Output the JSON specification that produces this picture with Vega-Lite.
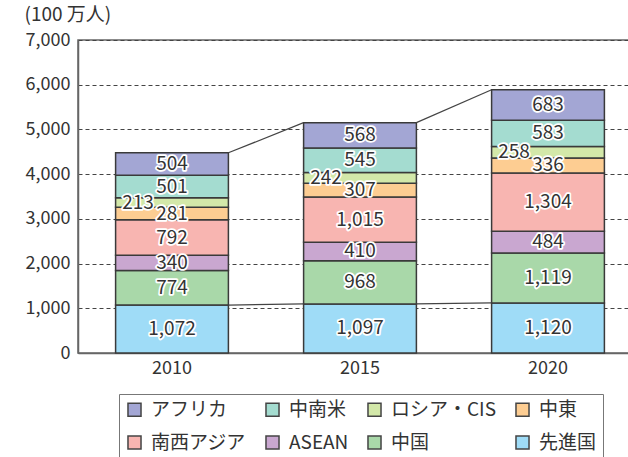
{
  "$schema": "https://vega.github.io/schema/vega-lite/v6.json",
  "width": 564,
  "height": 313,
  "autosize": {"type": "none"},
  "padding": {"left": 78, "top": 40, "right": 0, "bottom": 104},
  "background": "white",
  "config": {
    "font": "Noto Sans CJK JP",
    "numberFormat": ",d",
    "view": {"stroke": "#666", "strokeWidth": 1.5},
    "axis": {"domainColor": "#666", "domainWidth": 1.5, "labelColor": "#333", "labelFontSize": 18, "tickColor": "#444"},
    "axisX": {"labelAngle": 0, "ticks": true, "tickSize": -7, "tickWidth": 2, "tickOffset": -94, "labelOffset": 0, "labelPadding": 13, "grid": false},
    "axisY": {
      "ticks": false, "labelPadding": 8, "tickCount": 7,
      "grid": true, "gridDash": [4, 3], "gridColor": "#444", "gridWidth": 1,
      "titleAngle": 0, "titleAlign": "left", "titleBaseline": "alphabetic",
      "titleX": -54, "titleY": -20, "titleFontSize": 19, "titleFontWeight": "normal", "titleColor": "#333"
    }
  },
  "data": {
    "values": [
      {"year": "2010", "category": "先進国", "value": 1072},
      {"year": "2010", "category": "中国", "value": 774},
      {"year": "2010", "category": "ASEAN", "value": 340},
      {"year": "2010", "category": "南西アジア", "value": 792},
      {"year": "2010", "category": "中東", "value": 281},
      {"year": "2010", "category": "ロシア・CIS", "value": 213},
      {"year": "2010", "category": "中南米", "value": 501},
      {"year": "2010", "category": "アフリカ", "value": 504},
      {"year": "2015", "category": "先進国", "value": 1097},
      {"year": "2015", "category": "中国", "value": 968},
      {"year": "2015", "category": "ASEAN", "value": 410},
      {"year": "2015", "category": "南西アジア", "value": 1015},
      {"year": "2015", "category": "中東", "value": 307},
      {"year": "2015", "category": "ロシア・CIS", "value": 242},
      {"year": "2015", "category": "中南米", "value": 545},
      {"year": "2015", "category": "アフリカ", "value": 568},
      {"year": "2020", "category": "先進国", "value": 1120},
      {"year": "2020", "category": "中国", "value": 1119},
      {"year": "2020", "category": "ASEAN", "value": 484},
      {"year": "2020", "category": "南西アジア", "value": 1304},
      {"year": "2020", "category": "中東", "value": 336},
      {"year": "2020", "category": "ロシア・CIS", "value": 258},
      {"year": "2020", "category": "中南米", "value": 583},
      {"year": "2020", "category": "アフリカ", "value": 683}
    ]
  },
  "transform": [
    {"calculate": "indexof(['先進国','中国','ASEAN','南西アジア','中東','ロシア・CIS','中南米','アフリカ'], datum.category)", "as": "ord"},
    {"stack": "value", "groupby": ["year"], "sort": [{"field": "ord", "order": "ascending"}], "as": ["y0", "y1"]},
    {"calculate": "(datum.y0 + datum.y1) / 2", "as": "mid"}
  ],
  "layer": [
    {
      "mark": {"type": "bar", "stroke": "#3a3a3a", "strokeWidth": 1.5},
      "encoding": {
        "x": {
          "field": "year", "type": "nominal", "title": null,
          "scale": {"paddingInner": 0.4, "paddingOuter": 0.2}
        },
        "y": {
          "field": "y1", "type": "quantitative", "title": "(100 万人)",
          "scale": {"domain": [0, 7000], "nice": false}
        },
        "y2": {"field": "y0"},
        "color": {
          "field": "category", "type": "nominal",
          "scale": {
            "domain": ["アフリカ", "中南米", "ロシア・CIS", "中東", "南西アジア", "ASEAN", "中国", "先進国"],
            "range": ["#a3a6d4", "#a4dcd0", "#d3e8a9", "#fdcd92", "#f8b5b1", "#c9a7d0", "#a9d8a9", "#9fdcf7"]
          },
          "legend": {
            "title": null, "orient": "none", "legendX": 41, "legendY": 354,
            "direction": "horizontal", "columns": 4, "gridAlign": "each",
            "strokeColor": "#777", "padding": 6, "columnPadding": 15, "rowPadding": 12,
            "symbolType": "square", "symbolSize": 170, "symbolStrokeColor": "#444", "symbolStrokeWidth": 1.5,
            "labelFontSize": 19, "labelColor": "#333", "labelOffset": 7, "labelLimit": 300
          }
        }
      }
    },
    {
      "transform": [
        {"aggregate": [{"op": "sum", "field": "value", "as": "total"}], "groupby": ["year"]},
        {"window": [{"op": "lead", "field": "year", "as": "next"}, {"op": "lead", "field": "total", "as": "nextTotal"}], "sort": [{"field": "year"}]},
        {"filter": "datum.next != null"}
      ],
      "mark": {"type": "rule", "color": "#444", "strokeWidth": 1.2},
      "encoding": {
        "x": {"field": "year", "type": "nominal", "bandPosition": 1, "title": null},
        "x2": {"field": "next", "bandPosition": 0},
        "y": {"field": "total", "type": "quantitative", "title": "(100 万人)"},
        "y2": {"field": "nextTotal"}
      }
    },
    {
      "transform": [
        {"filter": "datum.category == '先進国'"},
        {"window": [{"op": "lead", "field": "year", "as": "next"}, {"op": "lead", "field": "value", "as": "nextValue"}], "sort": [{"field": "year"}]},
        {"filter": "datum.next != null"}
      ],
      "mark": {"type": "rule", "color": "#444", "strokeWidth": 1.2},
      "encoding": {
        "x": {"field": "year", "type": "nominal", "bandPosition": 1, "title": null},
        "x2": {"field": "next", "bandPosition": 0},
        "y": {"field": "value", "type": "quantitative", "title": "(100 万人)"},
        "y2": {"field": "nextValue"}
      }
    },
    {
      "transform": [{"filter": "datum.category != 'ロシア・CIS'"}],
      "mark": {"type": "text", "fontSize": 19, "fill": "white", "stroke": "white", "strokeWidth": 3.5, "strokeJoin": "round"},
      "encoding": {
        "x": {"field": "year", "type": "nominal", "title": null},
        "y": {"field": "mid", "type": "quantitative", "title": "(100 万人)"},
        "text": {"field": "value", "type": "quantitative", "format": ","}
      }
    },
    {
      "transform": [{"filter": "datum.category != 'ロシア・CIS'"}],
      "mark": {"type": "text", "fontSize": 19, "fill": "#333"},
      "encoding": {
        "x": {"field": "year", "type": "nominal", "title": null},
        "y": {"field": "mid", "type": "quantitative", "title": "(100 万人)"},
        "text": {"field": "value", "type": "quantitative", "format": ","}
      }
    },
    {
      "transform": [{"filter": "datum.category == 'ロシア・CIS'"}],
      "mark": {"type": "text", "fontSize": 19, "dx": -34, "fill": "white", "stroke": "white", "strokeWidth": 3.5, "strokeJoin": "round"},
      "encoding": {
        "x": {"field": "year", "type": "nominal", "title": null},
        "y": {"field": "mid", "type": "quantitative", "title": "(100 万人)"},
        "text": {"field": "value", "type": "quantitative", "format": ","}
      }
    },
    {
      "transform": [{"filter": "datum.category == 'ロシア・CIS'"}],
      "mark": {"type": "text", "fontSize": 19, "dx": -34, "fill": "#333"},
      "encoding": {
        "x": {"field": "year", "type": "nominal", "title": null},
        "y": {"field": "mid", "type": "quantitative", "title": "(100 万人)"},
        "text": {"field": "value", "type": "quantitative", "format": ","}
      }
    }
  ]
}
